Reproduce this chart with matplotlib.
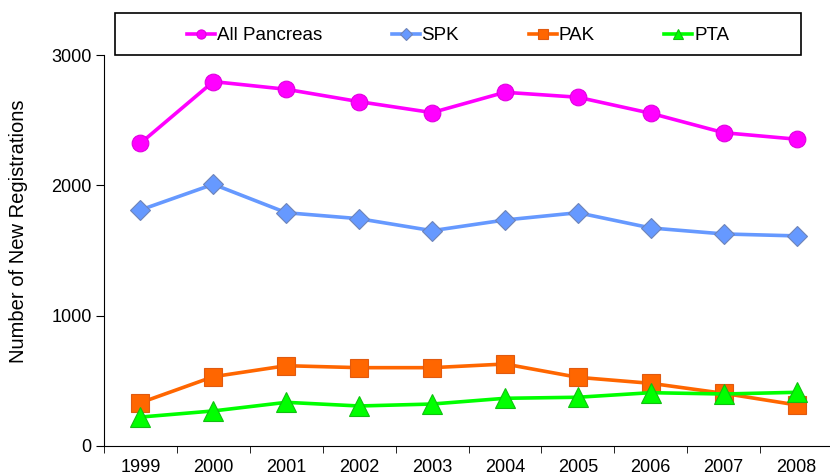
import matplotlib
matplotlib.use('Agg')
import matplotlib.pyplot as plt
from matplotlib.patches import Rectangle

# New registrations per year
years = ['1999', '2000', '2001', '2002', '2003', '2004', '2005', '2006', '2007', '2008']
all_pancreas = [2323, 2796, 2737, 2642, 2558, 2714, 2676, 2553, 2404, 2354]
spk = [1811, 2008, 1790, 1744, 1652, 1734, 1790, 1673, 1627, 1612]
pak = [332, 532, 616, 601, 601, 629, 527, 481, 404, 315]
pta = [222, 269, 335, 307, 322, 366, 374, 409, 399, 412]

plt.rcParams['font.family'] = ['Liberation Sans', 'DejaVu Sans']

fig = plt.figure(figsize=(8.3, 4.75), dpi=100)
ax = fig.add_axes([104 / 830, 1 - 446 / 475, 729 / 830, 391 / 475])

x = list(range(len(years)))
series = [
    ('All Pancreas', all_pancreas, '#FF00FF', '#E000E0', 'o', 12),
    ('SPK', spk, '#6699FF', '#6F84B8', 'D', 10.5),
    ('PAK', pak, '#FF6600', '#E05A10', 's', 13),
    ('PTA', pta, '#00FF00', '#10C010', '^', 14),
]
handles = []
for name, vals, col, edge, mk, ms in series:
    h, = ax.plot(x, vals, color=col, lw=2.6, marker=mk, markersize=ms,
                 markerfacecolor=col, markeredgecolor=edge, markeredgewidth=0.8,
                 label=name)
    handles.append(h)

ax.set_xlim(-0.5, len(years) - 0.5)
ax.set_ylim(0, 3000)
ax.set_yticks([0, 1000, 2000, 3000])
ax.set_xticks(x)
ax.set_xticklabels(years)
ax.set_xticks([i - 0.5 for i in range(len(years) + 1)], minor=True)
ax.tick_params(axis='x', which='major', length=0, pad=9, labelsize=13)
ax.tick_params(axis='x', which='minor', length=5, direction='out')
ax.tick_params(axis='y', length=6, direction='out', labelsize=13, pad=3)
for s in ['top', 'right']:
    ax.spines[s].set_visible(False)
ax.set_ylabel('Number of New Registrations', fontsize=14.5)
ax.yaxis.set_label_coords(-0.104, 0.55)

# legend box drawn separately, entries centred inside it
fig.patches.append(Rectangle((115 / 830, 1 - 55 / 475), 686 / 830, 42 / 475,
                             transform=fig.transFigure, fill=False,
                             edgecolor='black', linewidth=1.2))
fig.legend(handles=handles, loc='center', ncol=4, frameon=False,
           bbox_to_anchor=(458 / 830, 1 - 35.5 / 475),
           fontsize=13.5, markerscale=0.55, handlelength=1.5, handletextpad=0.1,
           columnspacing=3.7, borderaxespad=0)

plt.savefig('out.png', dpi=100)
plt.close()
